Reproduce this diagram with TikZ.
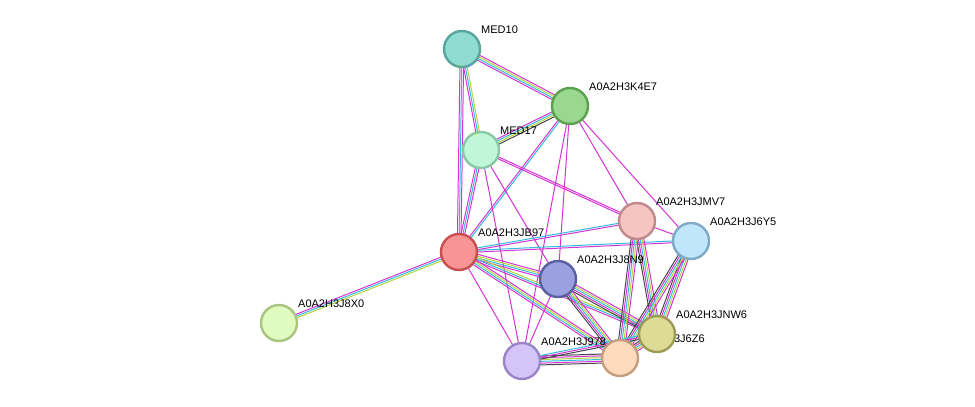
\documentclass[tikz,border=0pt]{standalone}
\usepackage{fontspec}
\setmainfont{Liberation Sans}
\usetikzlibrary{calc}
\definecolor{tm}{HTML}{D633D6}
\definecolor{tc}{HTML}{33BBDD}
\definecolor{tl}{HTML}{B4D43C}
\definecolor{tk}{HTML}{484848}
\tikzset{
  prot/.style={circle,minimum size=36pt,inner sep=0pt,line width=2.4pt},
  lab/.style={anchor=base west,inner sep=0pt,font=\fontsize{11}{13}\selectfont},
}
% parallel coloured lines from node to node
\newcommand\link[3]{%
  \foreach \c [count=\i] in {#3}{\xdef\nl{\i}}%
  \foreach \c [count=\i] in {#3}{%
    \pgfmathsetmacro\o{(\i-(\nl+1)/2)*1.8}%
    \draw[\c,line width=1pt] ($(#1)!\o pt!90:(#2)$) -- ($(#2)!\o pt!-90:(#1)$);}}
\begin{document}
\begin{tikzpicture}[x=1pt,y=-1pt]
\useasboundingbox (0,0) rectangle (975,407);
% positions
\coordinate (med10) at (462,49);
\coordinate (k4e7) at (570,106);
\coordinate (med17) at (481,150);
\coordinate (jmv7) at (637,221);
\coordinate (j6y5) at (691,241);
\coordinate (jb97) at (459,252);
\coordinate (j8n9) at (558,279);
\coordinate (j8x0) at (279,323);
\coordinate (jnw6) at (657,334);
\coordinate (j6z6) at (620,358);
\coordinate (j978) at (522,361);

% edges
\link{med10}{k4e7}{tm,tc,tl,tm}
\link{med10}{med17}{tm,tc,tl}
\link{med10}{jb97}{tm,tc,tm}
\link{k4e7}{med17}{tm,tc,tl,tk}
\link{k4e7}{jb97}{tm,tc}
\link{k4e7}{j8n9}{tm}
\link{k4e7}{j978}{tm}
\link{k4e7}{jmv7}{tm}
\link{k4e7}{j6y5}{tm}
\link{med17}{jb97}{tm,tc,tm}
\link{med17}{jmv7}{tm,tm}
\link{med17}{j8n9}{tm}
\link{med17}{j978}{tm}
\link{jb97}{j8x0}{tm,tc,tl}
\link{jb97}{jmv7}{tm,tc}
\link{jb97}{j6y5}{tm,tc}
\link{jb97}{j8n9}{tm,tc,tl,tm}
\link{jb97}{jnw6}{tm,tc,tl}
\link{jb97}{j6z6}{tm,tc,tl,tm}
\link{jb97}{j978}{tm}
\link{j8n9}{jnw6}{tk,tm,tc,tl,tm}
\link{j8n9}{j6z6}{tk,tm,tc,tl,tm}
\link{j8n9}{j978}{tm}
\link{jmv7}{jnw6}{tk,tm,tc,tl,tm}
\link{jmv7}{j6z6}{tk,tm,tc,tl,tm}
\link{jmv7}{j6y5}{tm}
\link{j6y5}{jnw6}{tk,tm,tc,tl,tm}
\link{j6y5}{j6z6}{tk,tm,tc,tl,tm}
\link{j978}{j6z6}{tk,tm,tc,tl,tm,tk}
\link{j978}{jnw6}{tk,tm,tc}
\link{jnw6}{j6z6}{tk,tm,tc,tl,tm}

% labels
\node[lab] (lmed10) at ($(med10)+(19,-16)$) {MED10};
\node[lab] (lk4e7) at ($(k4e7)+(19,-16)$) {A0A2H3K4E7};
\node[lab] (lmed17) at ($(med17)+(19,-16)$) {MED17};
\node[lab] (ljmv7) at ($(jmv7)+(19,-16)$) {A0A2H3JMV7};
\node[lab] (lj6y5) at ($(j6y5)+(19,-16)$) {A0A2H3J6Y5};
\node[lab] (ljb97) at ($(jb97)+(19,-16)$) {A0A2H3JB97};
\node[lab] (lj8n9) at ($(j8n9)+(19,-16)$) {A0A2H3J8N9};
\node[lab] (lj8x0) at ($(j8x0)+(19,-16)$) {A0A2H3J8X0};
\node[lab] (ljnw6) at ($(jnw6)+(19,-16)$) {A0A2H3JNW6};
\node[lab] (lj6z6) at ($(j6z6)+(19,-16)$) {A0A2H3J6Z6};
\node[lab] (lj978) at ($(j978)+(19,-16)$) {A0A2H3J978};

% proteins
\node[prot,fill={rgb,255:red,143;green,220;blue,211},draw={rgb,255:red,90;green,165;blue,156}] (n-med10) at (med10) {};
\node[prot,fill={rgb,255:red,154;green,216;blue,143},draw={rgb,255:red,90;green,161;blue,78}] (n-k4e7) at (k4e7) {};
\node[prot,fill={rgb,255:red,192;green,247;blue,216},draw={rgb,255:red,137;green,200;blue,165}] (n-med17) at (med17) {};
\node[prot,fill={rgb,255:red,247;green,196;blue,196},draw={rgb,255:red,192;green,138;blue,138}] (n-jmv7) at (jmv7) {};
\node[prot,fill={rgb,255:red,192;green,230;blue,251},draw={rgb,255:red,126;green,170;blue,199}] (n-j6y5) at (j6y5) {};
\node[prot,fill={rgb,255:red,249;green,148;blue,148},draw={rgb,255:red,196;green,80;blue,80}] (n-jb97) at (jb97) {};
\node[prot,fill={rgb,255:red,154;green,160;blue,224},draw={rgb,255:red,88;green,96;blue,160}] (n-j8n9) at (j8n9) {};
\node[prot,fill={rgb,255:red,224;green,251;blue,191},draw={rgb,255:red,168;green,196;blue,127}] (n-j8x0) at (j8x0) {};
\node[prot,fill={rgb,255:red,253;green,220;blue,189},draw={rgb,255:red,196;green,158;blue,126}] (n-j6z6) at (j6z6) {};
\node[prot,fill={rgb,255:red,212;green,196;blue,248},draw={rgb,255:red,154;green,132;blue,200}] (n-j978) at (j978) {};
\node[prot,fill={rgb,255:red,220;green,220;blue,150},draw={rgb,255:red,156;green,156;blue,85}] (n-jnw6) at (jnw6) {};
\end{tikzpicture}
\end{document}
